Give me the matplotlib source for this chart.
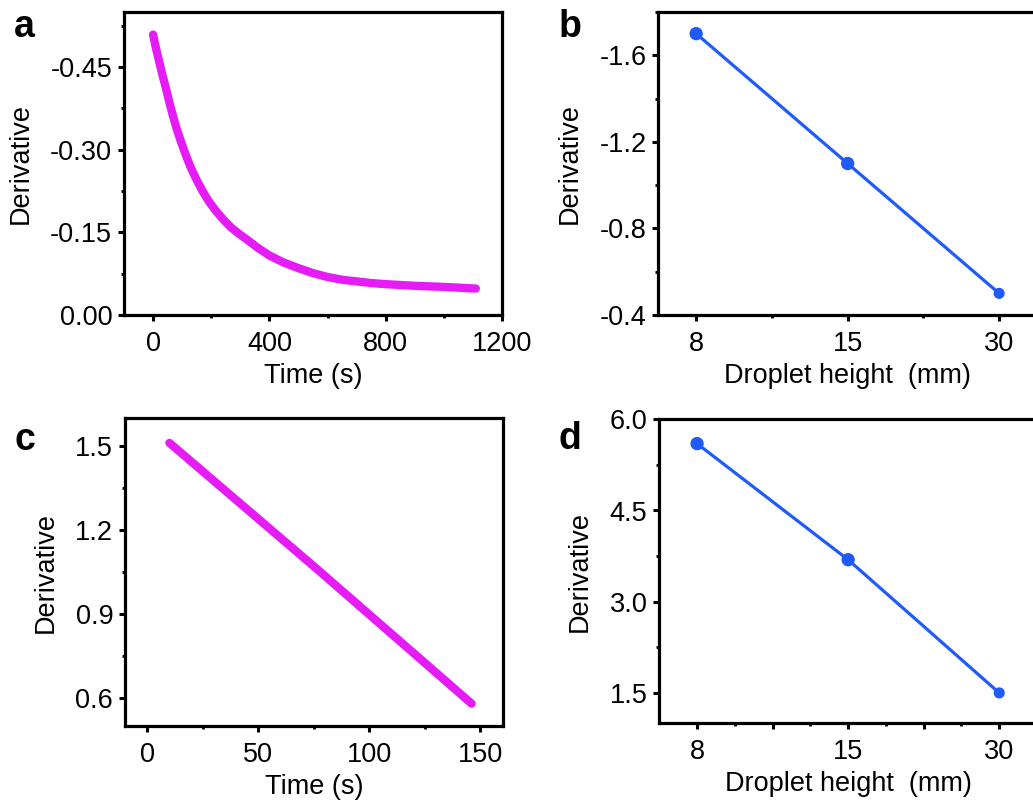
import matplotlib
matplotlib.use("Agg")
import matplotlib.pyplot as plt
from matplotlib.ticker import MultipleLocator, FixedLocator

plt.rcParams['font.family'] = ['Liberation Sans', 'DejaVu Sans']

# ---- data ----
# panel a: derivative vs time (s)
a_time = [0, 10, 21, 32, 44, 55, 67, 80, 95, 112, 130, 150, 170, 192, 216, 242, 268, 294,
          320, 360, 400, 450, 500, 550, 600, 650, 700, 750, 800, 900, 1000, 1110]
a_deriv = [-0.509, -0.484, -0.460, -0.436, -0.412, -0.388, -0.364, -0.340, -0.316, -0.291,
           -0.267, -0.245, -0.225, -0.206, -0.189, -0.173, -0.159, -0.148,
           -0.138, -0.122, -0.108, -0.095, -0.085, -0.076, -0.069, -0.064, -0.061, -0.058,
           -0.056, -0.053, -0.051, -0.048]
# panel b: derivative vs droplet height
heights = ['8', '15', '30']
b_deriv = [-1.70, -1.10, -0.50]
# panel c: derivative vs time (s)
c_time = [10, 77, 146]
c_deriv = [1.512, 1.057, 0.580]
# panel d: derivative vs droplet height
d_deriv = [5.60, 3.69, 1.50]

a_xticks = [0, 400, 800, 1200]
a_yticks = [0.00, -0.15, -0.30, -0.45]
a_yticklabels = ['0.00', '-0.15', '-0.30', '-0.45']
b_yticks = [-1.6, -1.2, -0.8, -0.4]
b_yticklabels = ['-1.6', '-1.2', '-0.8', '-0.4']
c_xticks = [0, 50, 100, 150]
c_yticks = [0.6, 0.9, 1.2, 1.5]
d_yticks = [1.5, 3.0, 4.5, 6.0]

MAGENTA = '#E61CF7'
BLUE = '#1F5BFA'
FS = 19.5

W, H = 1033, 805
fig = plt.figure(figsize=(W / 100, H / 100), dpi=100)

def rect(l, r, t, b):
    return [l / W, 1 - b / H, (r - l) / W, (b - t) / H]

ax_a = fig.add_axes(rect(124, 502, 12, 315))
ax_b = fig.add_axes(rect(658.3, 1037, 12, 315))
ax_c = fig.add_axes(rect(125, 502.7, 418.3, 726))
ax_d = fig.add_axes(rect(659.3, 1037, 419.3, 723.3))

def style(ax):
    for s in ax.spines.values():
        s.set_linewidth(2.3)
    ax.tick_params(which='major', direction='out', length=4.5, width=2.2,
                   labelsize=FS, pad=7)
    ax.tick_params(which='minor', direction='out', length=2.2, width=2.0)
    ax.tick_params(axis='y', which='major', pad=4)

# panel a
ax_a.plot(a_time, a_deriv, color=MAGENTA, lw=6, solid_capstyle='round', solid_joinstyle='round')
ax_a.set_xlim(-100, 1200)
ax_a.set_ylim(0.0, -0.55)
ax_a.set_xticks(a_xticks)
ax_a.xaxis.set_minor_locator(MultipleLocator(200))
ax_a.set_yticks(a_yticks)
ax_a.set_yticklabels(a_yticklabels)
ax_a.yaxis.set_minor_locator(MultipleLocator(0.075))
ax_a.set_xlabel('Time (s)', fontsize=FS, labelpad=4)
ax_a.set_ylabel('Derivative', fontsize=FS, labelpad=12)
style(ax_a)

# panel b
xb = list(range(len(heights)))
ms = [8.6, 8.6, 7.0]
ax_b.plot(xb, b_deriv, color=BLUE, lw=2.3)
ax_b.scatter(xb, b_deriv, s=[m ** 2 for m in ms], color=BLUE, zorder=3)
ax_b.set_xlim(-0.25, 2.25)
ax_b.set_ylim(-0.4, -1.8)
ax_b.set_xticks(xb)
ax_b.set_xticklabels(heights)
ax_b.xaxis.set_minor_locator(FixedLocator([0.5, 1.5]))
ax_b.set_yticks(b_yticks)
ax_b.set_yticklabels(b_yticklabels)
ax_b.yaxis.set_minor_locator(MultipleLocator(0.2))
ax_b.set_xlabel('Droplet height  (mm)', fontsize=FS, labelpad=4)
ax_b.set_ylabel('Derivative', fontsize=FS, labelpad=12)
style(ax_b)

# panel c
ax_c.plot(c_time, c_deriv, color=MAGENTA, lw=6, solid_capstyle='round')
ax_c.set_xlim(-10, 160)
ax_c.set_ylim(0.5, 1.6)
ax_c.set_xticks(c_xticks)
ax_c.xaxis.set_minor_locator(MultipleLocator(25))
ax_c.set_yticks(c_yticks)
ax_c.set_yticklabels(['0.6', '0.9', '1.2', '1.5'])
ax_c.yaxis.set_minor_locator(MultipleLocator(0.15))
ax_c.set_xlabel('Time (s)', fontsize=FS, labelpad=4)
ax_c.set_ylabel('Derivative', fontsize=FS, labelpad=12)
style(ax_c)

# panel d
ax_d.plot(xb, d_deriv, color=BLUE, lw=2.3)
ax_d.scatter(xb, d_deriv, s=[m ** 2 for m in ms], color=BLUE, zorder=3)
ax_d.set_xlim(-0.25, 2.25)
ax_d.set_ylim(1.0, 6.0)
ax_d.set_xticks([0, 0.5, 1, 1.5, 2])
ax_d.set_xticklabels([heights[0], '', heights[1], '', heights[2]])
ax_d.xaxis.set_minor_locator(FixedLocator([0.25, 0.75, 1.25, 1.75]))
ax_d.set_yticks(d_yticks)
ax_d.set_yticklabels(['1.5', '3.0', '4.5', '6.0'])
ax_d.yaxis.set_minor_locator(MultipleLocator(0.75))
ax_d.set_xlabel('Droplet height  (mm)', fontsize=FS, labelpad=4)
ax_d.set_ylabel('Derivative', fontsize=FS, labelpad=12)
style(ax_d)

# panel letters
for txt, x, y in [('a', 14, 37), ('b', 559, 37), ('c', 14, 450), ('d', 559, 449)]:
    fig.text(x / W, 1 - y / H, txt, fontsize=27, fontweight='bold', va='baseline', ha='left')

fig.savefig('out.png', dpi=100)
